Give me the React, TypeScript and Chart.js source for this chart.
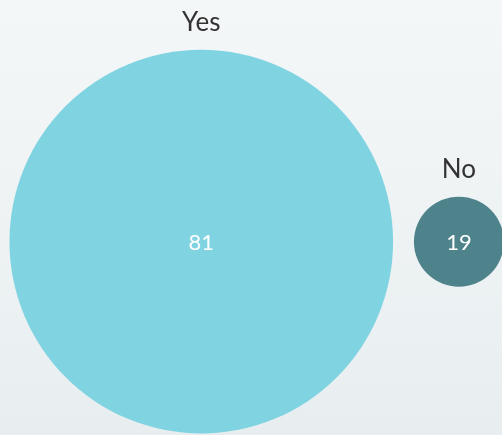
import React, { useEffect, useRef } from "react";
import { Chart, registerables } from "chart.js";

Chart.register(...registerables);

const categories = ["Yes", "No"];
const values = [81, 19];
const colors = ["#80d4e1", "#4f838b"];

// layout (in value units along x)
const X_MIN = 0;
const X_MAX = 212;
const leftPad = 4;
const gap = 8.8;

function centers(): number[] {
  const out: number[] = [];
  let cursor = leftPad;
  values.forEach((v, i) => {
    if (i > 0) cursor += gap;
    out.push(cursor + v);
    cursor += 2 * v;
  });
  return out;
}

function pxPerUnit(chart: any): number {
  const a = chart.chartArea;
  const w = a && isFinite(a.right - a.left) && a.right - a.left > 0 ? a.right - a.left : chart.width;
  if (!w || !isFinite(w)) return 0;
  return w / (X_MAX - X_MIN);
}

const labelPlugin = {
  id: "bubbleLabels",
  afterDatasetsDraw(chart: any) {
    const ctx = chart.ctx;
    const meta = chart.getDatasetMeta(0);
    meta.data.forEach((el: any, i: number) => {
      const r = el.options.radius;
      ctx.save();
      ctx.textAlign = "center";
      ctx.textBaseline = "alphabetic";
      ctx.fillStyle = "#333333";
      ctx.font = "26px Lato";
      ctx.fillText(categories[i], el.x, el.y - r - 19);
      ctx.fillStyle = "#ffffff";
      ctx.textBaseline = "middle";
      ctx.font = "22px Lato";
      ctx.fillText(String(values[i]), el.x, el.y + 1);
      ctx.restore();
    });
  },
};

export default function App() {
  const ref = useRef<HTMLCanvasElement | null>(null);
  useEffect(() => {
    if (!ref.current) return;
    const cx = centers();
    const chart = new Chart(ref.current, {
      type: "bubble",
      data: {
        labels: categories,
        datasets: [
          {
            data: values.map((v, i) => ({ x: cx[i], y: 0 })),
            backgroundColor: colors,
            borderWidth: 0,
            radius: (c: any) => values[c.dataIndex] * pxPerUnit(c.chart),
            clip: false,
          } as any,
        ],
      },
      options: {
        animation: false,
        responsive: true,
        maintainAspectRatio: false,
        events: [],
        layout: { padding: 0, autoPadding: false },
        plugins: {
          legend: { display: false },
          tooltip: { enabled: false },
        },
        scales: {
          x: { type: "linear", min: X_MIN, max: X_MAX, display: false },
          y: { type: "linear", min: -0.8, max: 1, display: false },
        },
      },
      plugins: [labelPlugin],
    });
    return () => chart.destroy();
  }, []);
  return (
    <div
      style={{
        position: "fixed",
        left: 0,
        top: 0,
        width: 502,
        height: 435,
        background: "linear-gradient(to bottom, #f4f7f8, #e8eef0)",
      }}
    >
      <canvas ref={ref} />
    </div>
  );
}
